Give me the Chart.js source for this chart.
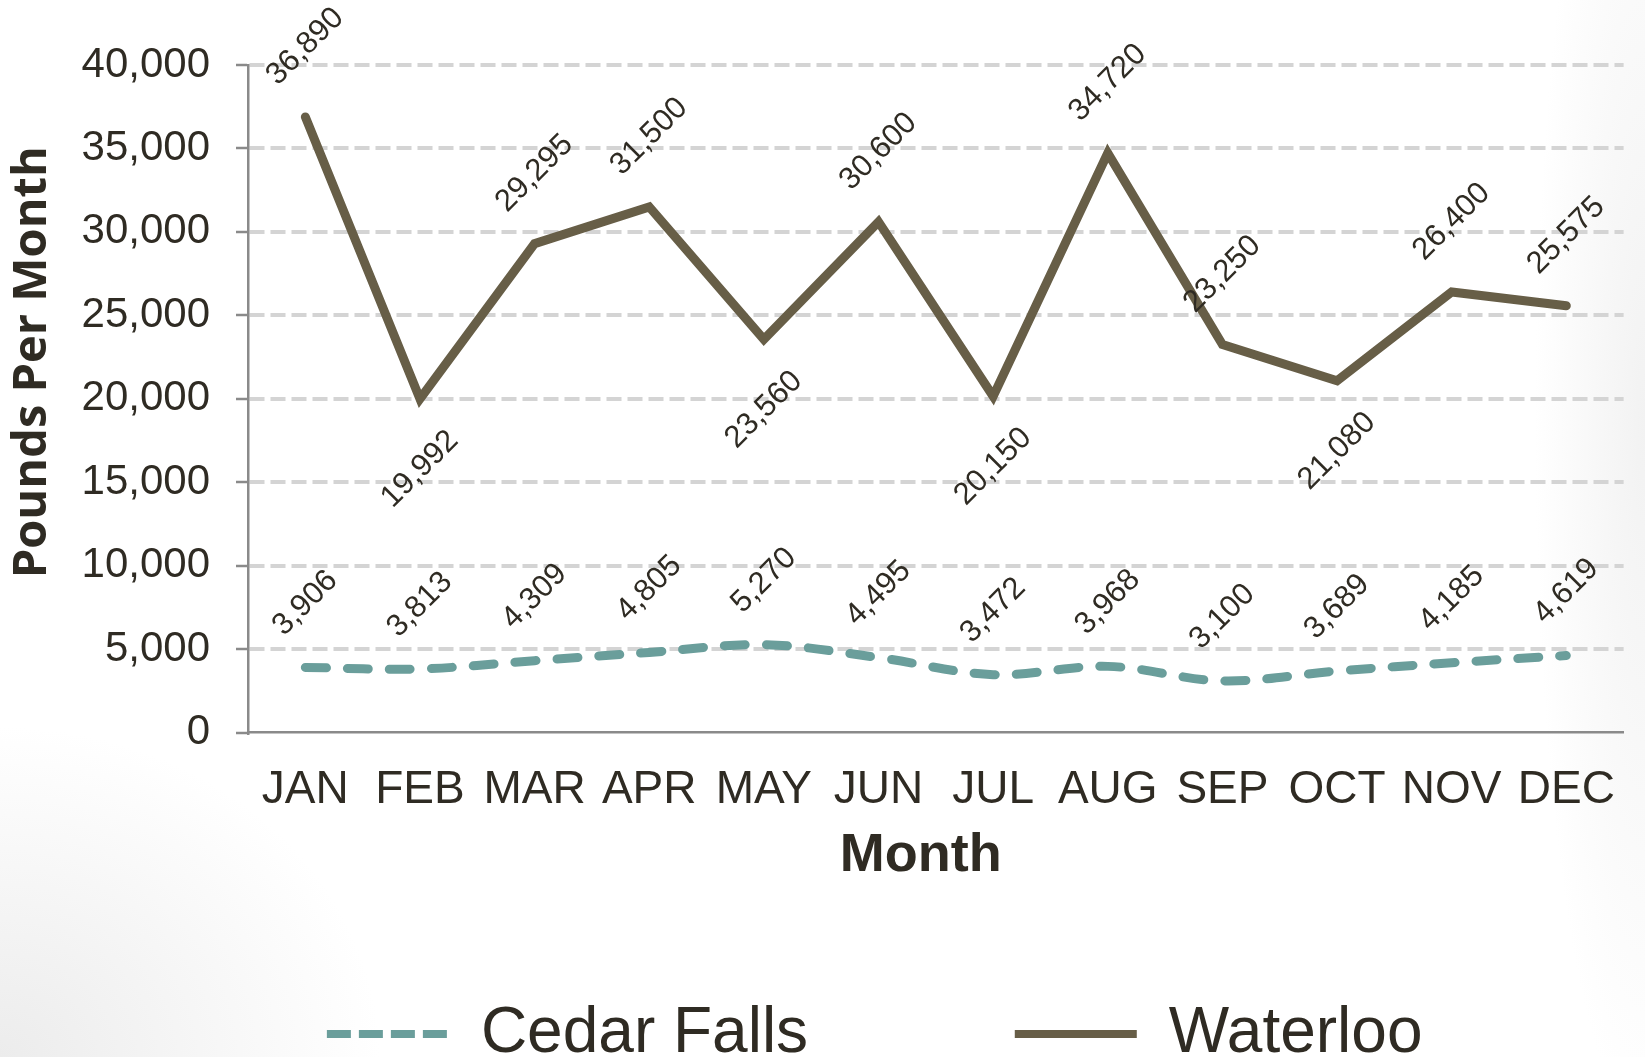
<!DOCTYPE html>
<html>
<head>
<meta charset="utf-8">
<title>Pounds Per Month</title>
<script src="https://cdn.jsdelivr.net/npm/chart.js@4.4.1/dist/chart.umd.min.js"></script>
<style>
  html, body { margin: 0; padding: 0; overflow: hidden; }
  body {
    width: 1645px;
    height: 1057px;
    background:
      radial-gradient(ellipse 380px 330px at 0% 100%, #ececec 0%, rgba(255,255,255,0) 100%),
      radial-gradient(ellipse 110px 700px at 100% 40%, #f2f2f2 0%, rgba(255,255,255,0) 100%),
      #ffffff;
  }
  #wrap { position: relative; width: 1645px; height: 1076px; }
</style>
</head>
<body>
<div id="wrap"><canvas id="myChart"></canvas></div>
<script>
// data
var months = ["JAN", "FEB", "MAR", "APR", "MAY", "JUN", "JUL", "AUG", "SEP", "OCT", "NOV", "DEC"];
var cedarFalls = [3906, 3813, 4309, 4805, 5270, 4495, 3472, 3968, 3100, 3689, 4185, 4619];
var waterloo = [36890, 19992, 29295, 31500, 23560, 30600, 20150, 34720, 23250, 21080, 26400, 25575];
var yMin = 0, yMax = 40000, yStep = 5000;

var textColor = "#2f2b23";
var axisGray = "#8a8a8a";
var nbsp = "\u00a0";

function fmt(v) {
  return v.toLocaleString("en-US");
}

// rotated value labels above (or below, at dips) each point
var valueLabels = {
  id: "valueLabels",
  afterDatasetsDraw: function (chart) {
    var ctx = chart.ctx;
    ctx.save();
    ctx.font = '31px "Liberation Sans", Arial, sans-serif';
    ctx.fillStyle = textColor;
    ctx.textAlign = "center";
    ctx.textBaseline = "middle";
    chart.data.datasets.forEach(function (ds, di) {
      var meta = chart.getDatasetMeta(di);
      meta.data.forEach(function (pt, i) {
        var v = ds.data[i];
        var text = fmt(v);
        var w = ctx.measureText(text).width;
        var half = (w + 22) / (2 * Math.SQRT2);
        var prev = ds.data[i - 1], next = ds.data[i + 1];
        var below = ds.labelsAtMinima && prev !== undefined && next !== undefined && v < prev && v < next;
        var dy = (29 + half) * (below ? 1 : -1);
        ctx.save();
        ctx.translate(pt.x, pt.y + dy);
        ctx.rotate(-Math.PI / 4);
        ctx.fillText(text, 0, 0);
        ctx.restore();
      });
    });
    ctx.restore();
  }
};

var legendTrail = [nbsp.repeat(6), nbsp.repeat(6) + "\u2009"];

new Chart(document.getElementById("myChart"), {
  type: "line",
  data: {
    labels: months,
    datasets: [
      {
        label: "Cedar Falls",
        data: cedarFalls,
        borderColor: "#6a9e9b",
        backgroundColor: "#6a9e9b",
        borderWidth: 9,
        borderDash: [21, 21],
        borderCapStyle: "round",
        tension: 0.35,
        pointRadius: 0,
        fill: false
      },
      {
        label: "Waterloo",
        data: waterloo,
        borderColor: "#675e47",
        backgroundColor: "#675e47",
        borderWidth: 9,
        borderCapStyle: "round",
        borderJoinStyle: "miter",
        tension: 0,
        pointRadius: 0,
        fill: false,
        labelsAtMinima: true
      }
    ]
  },
  options: {
    responsive: true,
    maintainAspectRatio: false,
    devicePixelRatio: 1,
    animation: false,
    layout: { padding: { top: 65, right: 3, bottom: 0, left: 0 } },
    plugins: {
      tooltip: { enabled: false },
      legend: {
        position: "bottom",
        align: "end",
        labels: {
          usePointStyle: true,
          pointStyle: "line",
          pointStyleWidth: 122,
          padding: 100,
          color: textColor,
          font: { family: '"Liberation Sans", Arial, sans-serif', size: 64 },
          generateLabels: function (chart) {
            var items = Chart.defaults.plugins.legend.labels.generateLabels(chart);
            items.forEach(function (it) {
              it.text = it.text + legendTrail[it.datasetIndex];
              it.lineCap = "butt";
              it.lineWidth = 8;
              it.lineDash = it.datasetIndex === 0 ? [24, 8] : [];
              it.lineDashOffset = 0;
            });
            return items;
          }
        }
      }
    },
    scales: {
      x: {
        offset: true,
        grid: { display: false, drawTicks: false },
        border: { display: true, color: axisGray, width: 2.5 },
        ticks: {
          autoSkip: false,
          maxRotation: 0,
          padding: 30,
          color: textColor,
          font: { family: '"Liberation Sans", Arial, sans-serif', size: 46 }
        },
        title: {
          display: true,
          text: "Month" + nbsp + nbsp,
          color: textColor,
          padding: { top: -24.4, bottom: 13.8 },
          font: { family: '"Liberation Sans", Arial, sans-serif', size: 54, weight: "bold" }
        }
      },
      y: {
        min: yMin,
        max: yMax,
        afterFit: function (scale) { scale.width = 248; },
        ticks: {
          stepSize: yStep,
          padding: 26,
          color: textColor,
          font: { family: '"Liberation Sans", Arial, sans-serif', size: 42 },
          callback: function (v) { return fmt(v); }
        },
        grid: {
          color: function (c) { return c.tick && c.tick.value === 0 ? "rgba(0,0,0,0)" : "#d4d4d4"; },
          lineWidth: 4,
          tickColor: axisGray,
          tickWidth: 2.5,
          tickLength: 12,
          tickBorderDash: []
        },
        border: { display: true, color: axisGray, width: 2.5, dash: [15, 6] },
        title: {
          display: true,
          text: nbsp.repeat(6) + "Pounds Per Month",
          color: textColor,
          padding: { top: 4.4, bottom: 0 },
          font: { family: '"Open Sans", sans-serif', size: 47, weight: "bold" }
        }
      }
    }
  },
  plugins: [valueLabels]
});
</script>
</body>
</html>
